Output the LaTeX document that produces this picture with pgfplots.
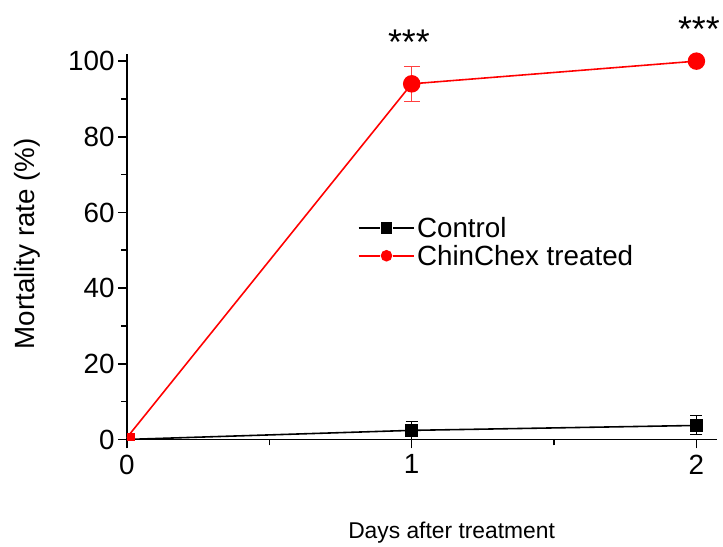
\documentclass[border=0pt]{standalone}
\usepackage{fontspec}
\setmainfont{Liberation Sans}
\usepackage{pgfplots}
\pgfplotsset{compat=1.18}
\begin{document}
\begin{tikzpicture}
\begin{axis}[
  scale only axis, width=595pt, height=389pt,
  xmin=0, xmax=2.073, ymin=0, ymax=102,
  axis lines=left, axis line style={line width=1.6pt,-},
  xtick={0,1,2}, ytick={0,20,40,60,80,100},
  minor xtick={0.5,1.5}, minor ytick={10,30,50,70,90},
  tick align=outside, major tick length=9pt, minor tick length=6pt,
  every tick/.style={black, line width=1.6pt},
  tick label style={font=\fontsize{28}{33}\selectfont},
  xticklabel style={yshift=-3pt},
  /pgf/number format/assume math mode=true,
  ylabel={Mortality rate (\%)},
  ylabel style={font=\fontsize{28}{33}\selectfont, at={(axis description cs:0,0.507)}, anchor=center, yshift=100pt},
  xlabel={Days after treatment},
  xlabel style={font=\fontsize{23}{28}\selectfont, at={(axis description cs:0.55,0)}, anchor=center, yshift=-94pt},
  legend style={at={(axis cs:0.8,59.8)}, anchor=north west, draw=none, fill=none, font=\fontsize{28}{33}\selectfont, row sep=2pt},
  legend cell align=left,
  legend image code/.code={
    \draw[mark=none] (0pt,0pt) -- (21pt,0pt);
    \draw[mark=none] (35pt,0pt) -- (56pt,0pt);
    \draw[only marks, mark size=5pt, mark indices={1}] plot coordinates {(28pt,0pt)};
  },
  after end axis/.code={
    \node[font=\fontsize{36}{40}\selectfont, anchor=base] at (axis cs:0.99,101.7) {***};
    \node[font=\fontsize{36}{40}\selectfont, anchor=base west] at (axis cs:1.923,105.1) {***};
  },
]
\addplot[black, line width=1.6pt, mark=square*, mark size=6pt, mark indices={2,3},
  error bars/.cd, y dir=both, y explicit,
  error bar style={line width=1pt, black},
  error mark options={line width=1pt, mark size=6pt, black, rotate=90}]
  coordinates {(0,0) +- (0,0) (1,2.4) +- (0,2.4) (2,3.7) +- (0,2.5)};
\addlegendentry{Control}
\addplot[red, line width=1.6pt, mark=*, mark size=8pt, mark indices={2,3},
  error bars/.cd, y dir=both, y explicit,
  error bar style={line width=1pt, red!75},
  error mark options={line width=1pt, mark size=8pt, red!75, rotate=90}]
  coordinates {(0,0.5) +- (0,0) (1,94) +- (0,4.6) (2,100) +- (0,0)};
\addlegendentry{ChinChex treated}
\addplot[red, only marks, mark=square*, mark size=3.5pt, forget plot] coordinates {(0.012,0.8)};
\end{axis}
\path[use as bounding box] (current axis.south west) ++(-128pt,-106pt) rectangle ++(723pt,549pt);
\end{tikzpicture}
\end{document}
